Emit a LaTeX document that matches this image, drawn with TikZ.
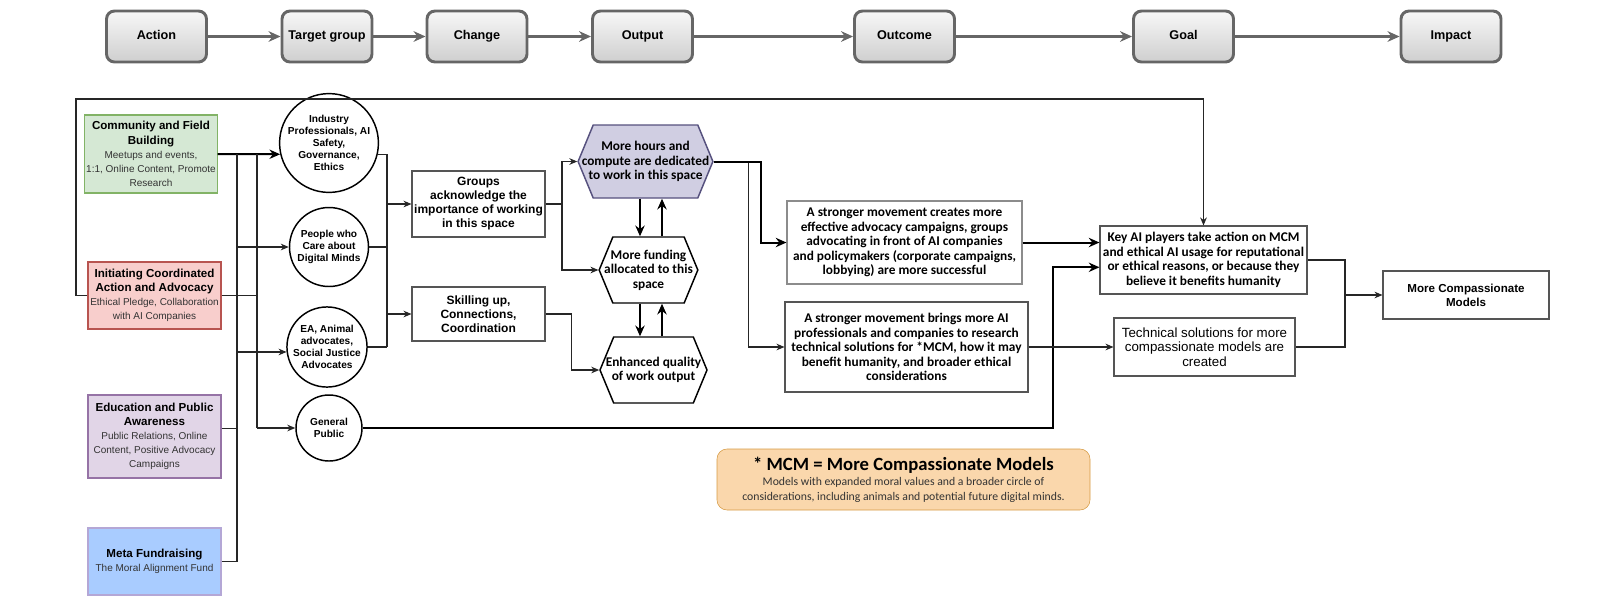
\documentclass[tikz,border=0pt]{standalone}
\usepackage{fontspec}
\setmainfont{Liberation Sans}
\newfontfamily\calfont{Carlito}
\usetikzlibrary{arrows.meta,shapes.symbols}

\definecolor{stageline}{HTML}{666666}
\definecolor{commfill}{HTML}{D5E8D4}
\definecolor{commline}{HTML}{82B366}
\definecolor{initfill}{HTML}{F8CECC}
\definecolor{initline}{HTML}{B85450}
\definecolor{edufill}{HTML}{E1D5E7}
\definecolor{eduline}{HTML}{9673A6}
\definecolor{metafill}{HTML}{A9CCFF}
\definecolor{metaline}{HTML}{B4A7D6}
\definecolor{hoursfill}{HTML}{D0CEE2}
\definecolor{hoursline}{HTML}{56517E}
\definecolor{notefill}{HTML}{FAD7AC}
\definecolor{noteline}{HTML}{D69B45}
\definecolor{boxline}{HTML}{555555}

\newcommand{\acttitle}[1]{{\fontsize{8.7}{10.6}\selectfont\bfseries\color{black} #1}}

\tikzset{
  stage/.style={draw=stageline, line width=2.2pt, rounded corners=6pt, top color=gray!6, bottom color=gray!38,
    minimum width=75pt, minimum height=38.25pt, text height=7pt, text depth=2pt,
    font=\fontsize{9.5}{11}\selectfont\bfseries},
  stagearrow/.style={draw=stageline, line width=2.2pt, -{Stealth[length=9pt,width=8pt]}},
  actbox/.style 2 args={fill=#1, draw=#2, line width=0.8pt, align=center, inner sep=1pt,
    font=\fontsize{7.5}{10.6}\selectfont, text=black!80},
  crowd/.style={circle, draw, line width=1.1pt, align=center, inner sep=0pt, font=\fontsize{7.6}{9}\selectfont\bfseries},
  plainbox/.style={draw=boxline, line width=0.8pt, align=center, inner sep=1pt, font=\fontsize{9}{10.5}\selectfont\bfseries},
  calbox/.style={plainbox, font=\calfont\fontsize{10}{10.9}\selectfont\bfseries},
  hexbox/.style={signal, signal to=west and east, signal pointer angle=135, draw, line width=1.1pt, align=center,
    inner ysep=1pt, font=\calfont\fontsize{10}{10.9}\selectfont\bfseries},
  conn/.style={draw=black!85, line width=0.8pt},
  connarrow/.style={conn, -{Stealth[length=6pt,width=5pt]}},
  thickarrow/.style={draw=black, line width=1.5pt, -{Stealth[length=8pt,width=7pt]}},
}

\begin{document}
\begin{tikzpicture}[x=0.75pt, y=-0.75pt]
\useasboundingbox (0,0) rectangle (1600,601);

% stages along the top
\node[stage] (act) at (156.5,36.5) {Action};
\node[stage, minimum width=67.5pt] (tgt) at (327,36.5) {Target group};
\node[stage] (chg) at (477,36.5) {Change};
\node[stage] (outp) at (642.5,36.5) {Output};
\node[stage] (outc) at (904.5,36.5) {Outcome};
\node[stage] (goal) at (1183.5,36.5) {Goal};
\node[stage] (imp) at (1451,36.5) {Impact};
\foreach \a/\b in {act/tgt,tgt/chg,chg/outp,outp/outc,outc/goal,goal/imp}
  \draw[stagearrow] (\a) -- (\b);

% actions
\node[actbox={commfill}{commline}, minimum width=99pt, minimum height=58.5pt] (comm) at (151,154)
  {\acttitle{Community and Field}\\\acttitle{Building}\\Meetups and events,\\1:1, Online Content, Promote\\Research};
\node[actbox={initfill}{initline}, minimum width=99.75pt, minimum height=50.25pt] (init) at (154.5,295.5)
  {\acttitle{Initiating Coordinated}\\\acttitle{Action and Advocacy}\\Ethical Pledge, Collaboration\\with AI Companies};
\node[actbox={edufill}{eduline}, minimum width=99.75pt, minimum height=62.25pt] (edu) at (154.5,436.5)
  {\acttitle{Education and Public}\\\acttitle{Awareness}\\Public Relations, Online\\Content, Positive Advocacy\\Campaigns};
\node[actbox={metafill}{metaline}, minimum width=99.75pt, minimum height=50.25pt] (meta) at (154.5,561.5)
  {\acttitle{Meta Fundraising}\\The Moral Alignment Fund};

% target groups
\node[crowd, minimum size=70.5pt] (ind) at (329,143) {Industry\\Professionals, AI\\Safety,\\Governance,\\Ethics};
\node[crowd, minimum size=59.25pt] (ppl) at (329,247) {People who\\Care about\\Digital Minds};
\node[crowd, minimum size=60pt] (ea) at (327,347) {EA, Animal\\advocates,\\Social Justice\\Advocates};
\node[crowd, minimum size=49.5pt] (gen) at (329,428) {General\\Public};

% change and output
\node[plainbox, minimum width=99.75pt, minimum height=49.5pt] (grp) at (478.5,204)
  {Groups\\acknowledge the\\importance of working\\in this space};
\node[plainbox, minimum width=99.75pt, minimum height=40.5pt] (skl) at (478.5,314)
  {Skilling up,\\Connections,\\Coordination};
\node[hexbox, fill=hoursfill, draw=hoursline, inner xsep=-8.6pt, minimum height=54.75pt] (hrs) at (645.5,161.5)
  {More hours and\\compute are dedicated\\to work in this space};
\node[hexbox, inner xsep=-6.5pt, minimum height=49.5pt] (fnd) at (648.5,270)
  {More funding\\allocated to this\\space};
\node[hexbox, inner xsep=-5.9pt, minimum height=49.5pt] (enh) at (653.5,370)
  {Enhanced quality\\of work output};

% outcome, goal, impact
\node[calbox, draw=black!45, minimum width=176.25pt, minimum height=62.25pt] (mv1) at (904.5,242.5)
  {A stronger movement creates more\\effective advocacy campaigns, groups\\advocating in front of AI companies\\and policymakers (corporate campaigns,\\lobbying) are more successful};
\node[calbox, minimum width=182.25pt, minimum height=67.5pt] (mv2) at (906.5,347)
  {A stronger movement brings more AI\\professionals and companies to research\\technical solutions for *MCM, how it may\\benefit humanity, and broader ethical\\considerations};
\node[calbox, minimum width=155.25pt, minimum height=51pt] (keyai) at (1203.5,260)
  {Key AI players take action on MCM\\and ethical AI usage for reputational\\or ethical reasons, or because they\\believe it benefits humanity};
\node[plainbox, font=\fontsize{10}{11}\selectfont, minimum width=135.75pt, minimum height=43.5pt] (tech) at (1204.5,347)
  {Technical solutions for more\\compassionate models are\\created};
\node[plainbox, font=\fontsize{8.7}{10.3}\selectfont\bfseries, minimum width=124.5pt, minimum height=36pt] (mcm) at (1466,295)
  {More Compassionate\\Models};

% note
\node[draw=noteline, fill=notefill, rounded corners=7.5pt, minimum width=279.75pt, minimum height=45.75pt,
  align=center, inner sep=1pt, font=\calfont\fontsize{8.8}{11.2}\selectfont, text=black!80] (note) at (903.5,479.5)
  {{\fontsize{14}{16}\selectfont\bfseries\color{black} * MCM = More Compassionate Models}\\
   Models with expanded moral values and a broader circle of\\
   considerations, including animals and potential future digital minds.};

% junctions
\coordinate (busA) at (237,154);
\coordinate (busB) at (257,154);
\coordinate (busC) at (387,154);
\coordinate (busD) at (562,204);
\coordinate (busE) at (1345,260);
\coordinate (loop) at (76,99);
\coordinate (gpturn) at (1053,428);
\coordinate (dn) at (640,0);
\coordinate (up) at (662,0);

% action -> target group
\draw[thickarrow] (comm.east) -- (ind.193.5);
\draw[conn] (busA) -- (busA |- meta.east);
\draw[conn] (busB) -- (busB |- gen.west);
\draw[connarrow] (busA |- ppl.west) -- (ppl.west);
\draw[connarrow] (busA |- ea.187) -- (ea.187);
\draw[connarrow] (busB |- gen.west) -- (gen.west);
\draw[conn] (init.east) -- (init.east -| busB);
\draw[conn] (edu.7) -- (edu.7 -| busA);
\draw[conn] (meta.east) -- (meta.east -| busA);
\draw[connarrow] (init.west) -| (loop) -| (keyai.north);

% target group -> change
\draw[conn] (ind.-13.5) -- (ind.-13.5 -| busC);
\draw[conn] (ppl.east) -- (ppl.east -| busC);
\draw[conn] (ea.east) -- (ea.east -| busC);
\draw[conn] (busC) -- (busC |- ea.east);
\draw[connarrow] (busC |- grp.west) -- (grp.west);
\draw[connarrow] (busC |- skl.west) -- (skl.west);

% change -> output
\draw[conn] (grp.east) -- (busD);
\draw[connarrow] (busD) |- (hrs.west);
\draw[connarrow] (busD) |- (fnd.west);
\draw[connarrow] (skl.east) -- ++(26,0) |- (enh.west);
\draw[thickarrow] (hrs.south -| dn) -- (fnd.north -| dn);
\draw[thickarrow] (fnd.north -| up) -- (hrs.south -| up);
\draw[thickarrow] (fnd.south -| dn) -- (enh.north -| dn);
\draw[thickarrow] (enh.north -| up) -- (fnd.south -| up);

% output -> outcome -> goal -> impact
\draw[connarrow] (hrs.east) -- ++(35,0) |- (mv2.west);
\draw[thickarrow] (hrs.east) -- ++(47,0) |- (mv1.west);
\draw[thickarrow] (mv1.east) -- (mv1.east -| keyai.west);
\draw[thickarrow] (gen.east) -- (gpturn) |- (keyai.184);
\draw[connarrow] (mv2.east) -- (mv2.east -| tech.west);
\draw[conn] (keyai.east) -- (busE) |- (tech.east);
\draw[connarrow] (busE |- mcm.west) -- (mcm.west);
\end{tikzpicture}
\end{document}
